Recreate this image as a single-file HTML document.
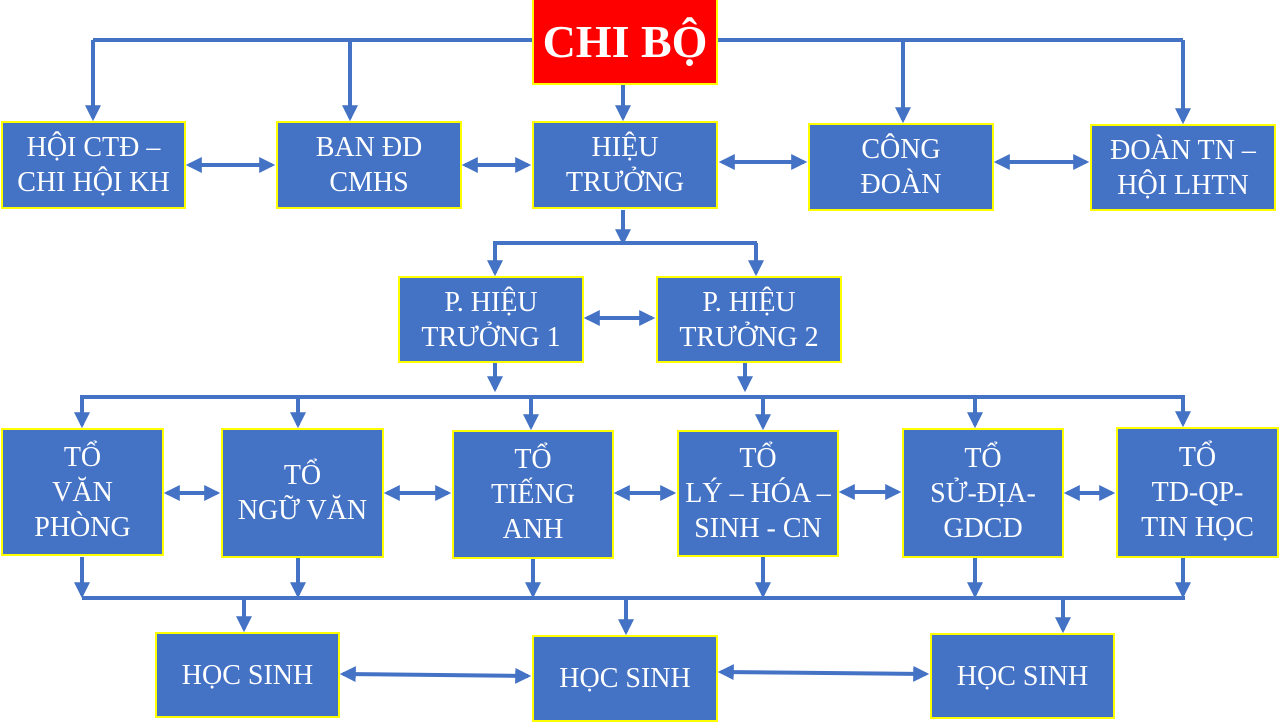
<!DOCTYPE html>
<html><head><meta charset="utf-8"><style>
html,body{margin:0;padding:0;background:#fff;}
body{width:1280px;height:720px;position:relative;overflow:hidden;font-family:"Liberation Serif",serif;}
.b{position:absolute;box-sizing:border-box;background:#4472c4;border:2px solid #ffff00;color:#fff;display:flex;align-items:center;justify-content:center;text-align:center;font-size:28px;line-height:35px;white-space:nowrap;}
svg{position:absolute;left:0;top:0;}
</style></head><body>
<svg width="1280" height="720">
<defs>
<marker id="a" viewBox="0 0 10 10" refX="8" refY="5" markerWidth="4" markerHeight="4" orient="auto-start-reverse"><path d="M0,0L10,5L0,10z" fill="#4472c4"/></marker>
</defs>
<g stroke="#4472c4" stroke-width="4" fill="none">
<path d="M93,40H1183"/>
<path d="M93,40V118" marker-end="url(#a)"/>
<path d="M350,40V118" marker-end="url(#a)"/>
<path d="M903,40V120" marker-end="url(#a)"/>
<path d="M1183,40V121" marker-end="url(#a)"/>
<path d="M623,85V118" marker-end="url(#a)"/>
<path d="M189,165H272" marker-start="url(#a)" marker-end="url(#a)"/>
<path d="M465,165H528" marker-start="url(#a)" marker-end="url(#a)"/>
<path d="M722,162H804" marker-start="url(#a)" marker-end="url(#a)"/>
<path d="M997,162H1086" marker-start="url(#a)" marker-end="url(#a)"/>
<path d="M623,210V242" marker-end="url(#a)"/>
<path d="M493,243H757"/>
<path d="M495,243V273" marker-end="url(#a)"/>
<path d="M756,243V273" marker-end="url(#a)"/>
<path d="M587,318H652" marker-start="url(#a)" marker-end="url(#a)"/>
<path d="M495,362V389" marker-end="url(#a)"/>
<path d="M745,362V389" marker-end="url(#a)"/>
<path d="M80,397H1185"/>
<path d="M82,397V425" marker-end="url(#a)"/>
<path d="M298,397V425" marker-end="url(#a)"/>
<path d="M531,397V427" marker-end="url(#a)"/>
<path d="M763,397V427" marker-end="url(#a)"/>
<path d="M975,397V425" marker-end="url(#a)"/>
<path d="M1183,397V424" marker-end="url(#a)"/>
<path d="M167,493H217" marker-start="url(#a)" marker-end="url(#a)"/>
<path d="M387,493H448" marker-start="url(#a)" marker-end="url(#a)"/>
<path d="M617,493H673" marker-start="url(#a)" marker-end="url(#a)"/>
<path d="M842,492H898" marker-start="url(#a)" marker-end="url(#a)"/>
<path d="M1067,493H1112" marker-start="url(#a)" marker-end="url(#a)"/>
<path d="M82,557V595" marker-end="url(#a)"/>
<path d="M298,557V595" marker-end="url(#a)"/>
<path d="M533,558V595" marker-end="url(#a)"/>
<path d="M763,556V595" marker-end="url(#a)"/>
<path d="M975,557V595" marker-end="url(#a)"/>
<path d="M1183,557V595" marker-end="url(#a)"/>
<path d="M82,598H1185"/>
<path d="M244,598V629" marker-end="url(#a)"/>
<path d="M626,598V632" marker-end="url(#a)"/>
<path d="M1063,598V630" marker-end="url(#a)"/>
<path d="M343,674L528,676" marker-start="url(#a)" marker-end="url(#a)"/>
<path d="M721,672L926,674" marker-start="url(#a)" marker-end="url(#a)"/>
</g>
</svg>
<div class="b" style="left:532px;top:-2px;width:186px;height:87px;background:#ff0000;font-size:46px;font-weight:bold;">CHI BỘ</div>
<div class="b" style="left:1px;top:121px;width:185px;height:88px;">HỘI CTĐ –<br>CHI HỘI KH</div>
<div class="b" style="left:276px;top:121px;width:186px;height:88px;">BAN ĐD<br>CMHS</div>
<div class="b" style="left:532px;top:121px;width:186px;height:88px;">HIỆU<br>TRƯỞNG</div>
<div class="b" style="left:808px;top:123px;width:186px;height:88px;">CÔNG<br>ĐOÀN</div>
<div class="b" style="left:1090px;top:124px;width:186px;height:87px;">ĐOÀN TN –<br>HỘI LHTN</div>
<div class="b" style="left:398px;top:276px;width:186px;height:87px;">P. HIỆU<br>TRƯỞNG 1</div>
<div class="b" style="left:656px;top:276px;width:186px;height:87px;">P. HIỆU<br>TRƯỞNG 2</div>
<div class="b" style="left:1px;top:428px;width:163px;height:128px;">TỔ<br>VĂN<br>PHÒNG</div>
<div class="b" style="left:221px;top:428px;width:163px;height:130px;">TỔ<br>NGỮ VĂN</div>
<div class="b" style="left:452px;top:430px;width:162px;height:129px;">TỔ<br>TIẾNG<br>ANH</div>
<div class="b" style="left:677px;top:430px;width:162px;height:127px;">TỔ<br>LÝ – HÓA –<br>SINH - CN</div>
<div class="b" style="left:902px;top:428px;width:162px;height:130px;">TỔ<br>SỬ-ĐỊA-<br>GDCD</div>
<div class="b" style="left:1116px;top:427px;width:163px;height:131px;">TỔ<br>TD-QP-<br>TIN HỌC</div>
<div class="b" style="left:155px;top:632px;width:185px;height:86px;">HỌC SINH</div>
<div class="b" style="left:532px;top:635px;width:186px;height:87px;">HỌC SINH</div>
<div class="b" style="left:930px;top:633px;width:185px;height:86px;">HỌC SINH</div>
</body></html>
